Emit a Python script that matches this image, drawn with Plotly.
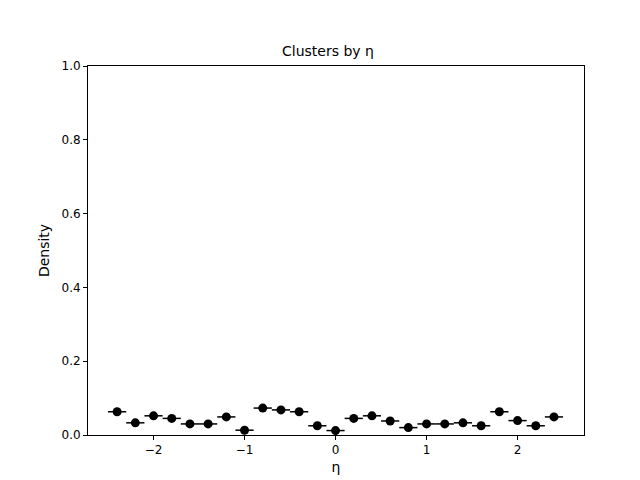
import plotly.graph_objects as go

eta = [-2.4, -2.2, -2.0, -1.8, -1.6, -1.4, -1.2, -1.0, -0.8, -0.6, -0.4, -0.2, 0.0,
       0.2, 0.4, 0.6, 0.8, 1.0, 1.2, 1.4, 1.6, 1.8, 2.0, 2.2, 2.4]
density = [0.063, 0.033, 0.052, 0.045, 0.030, 0.030, 0.049, 0.013, 0.073, 0.068, 0.063, 0.025, 0.012,
           0.045, 0.052, 0.038, 0.020, 0.030, 0.030, 0.033, 0.025, 0.063, 0.039, 0.025, 0.049]
yerr = [0.009, 0.006, 0.008, 0.007, 0.006, 0.006, 0.007, 0.005, 0.010, 0.009, 0.009, 0.006, 0.004,
        0.007, 0.008, 0.007, 0.005, 0.006, 0.006, 0.006, 0.006, 0.009, 0.007, 0.006, 0.007]
xerr = [0.1] * len(eta)

fig = go.Figure()
fig.add_trace(go.Scatter(
    x=eta, y=density, mode="markers",
    marker=dict(color="black", size=9),
    error_x=dict(type="data", array=xerr, color="black", thickness=1.5, width=0),
    error_y=dict(type="data", array=yerr, color="black", thickness=1.5, width=0),
))

axis = dict(showgrid=False, zeroline=False, showline=True, linecolor="black", mirror=True,
            ticks="outside", tickcolor="black", ticklen=4, color="black", automargin=False)
fig.update_layout(
    width=640, height=480, plot_bgcolor="white", paper_bgcolor="white",
    margin=dict(l=80, r=64, t=58, b=53, autoexpand=False),
    font=dict(family="DejaVu Sans", size=12, color="black"),
    title=dict(text="Clusters by η", x=0.5, xanchor="center", y=0.92, font=dict(size=14),
               automargin=False),
    showlegend=False,
    xaxis=dict(axis, range=[-2.72, 2.73], tickvals=[-2, -1, 0, 1, 2], ticktext=["−2", "−1", "0", "1", "2"],
               title=dict(text="η", standoff=5)),
    yaxis=dict(axis, range=[0, 1], tickvals=[0, 0.2, 0.4, 0.6, 0.8, 1.0], tickformat=".1f",
               title=dict(text="Density", standoff=8)),
)
fig.write_html("out.html")
